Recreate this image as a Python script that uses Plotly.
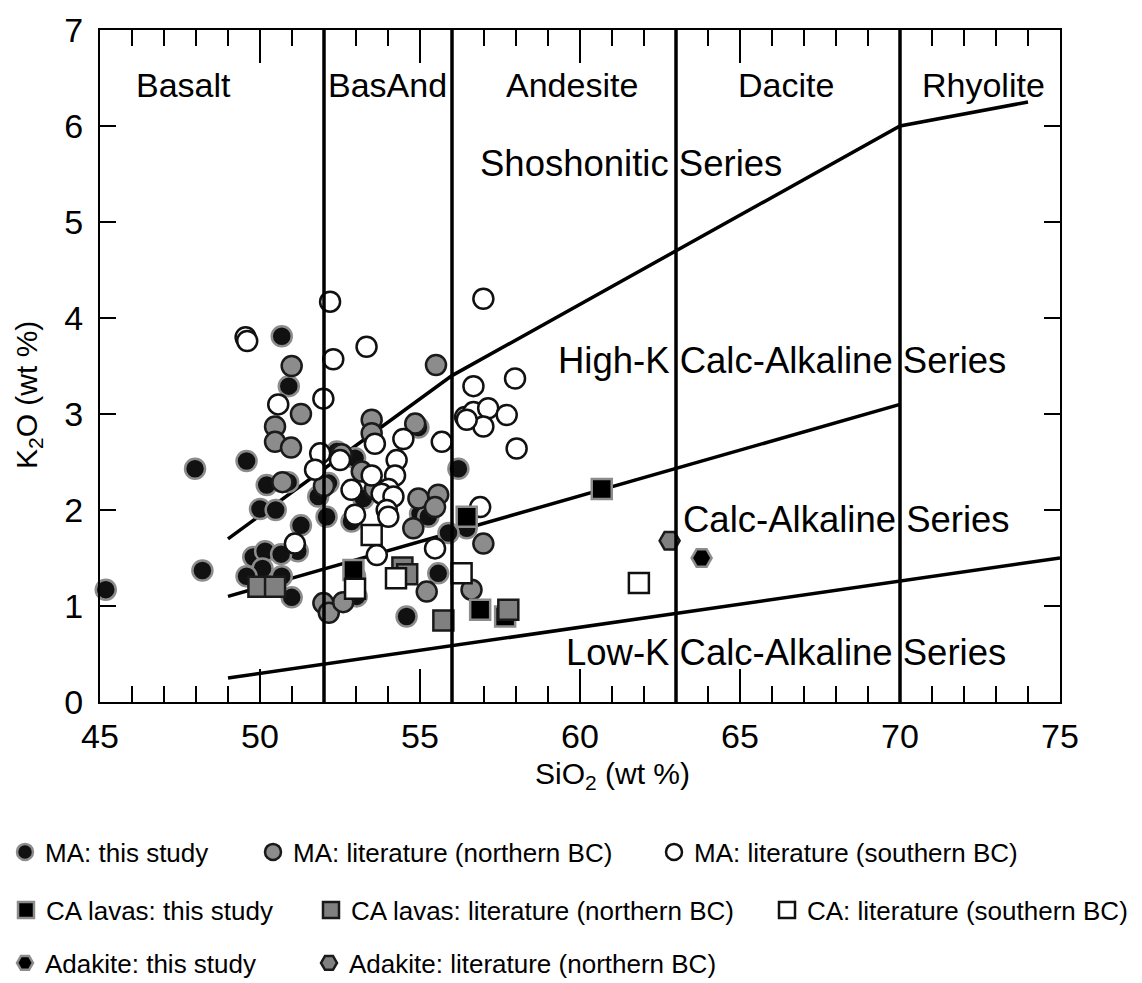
import plotly.graph_objects as go

# ---------------- data ----------------
ma_this_x = [45.18, 47.97, 48.2, 49.58, 50.68, 50.9, 50.21, 50.88, 50.0, 50.49, 51.28, 51.18, 49.79, 50.16,
             50.66, 50.08, 49.58, 50.68, 50.99, 52.4, 52.97, 52.14, 51.82, 53.23, 52.08, 52.86, 54.95, 55.0,
             55.26, 56.2, 56.46, 55.89, 52.97, 53.02, 55.57, 54.58]
ma_this_y = [1.17, 2.43, 1.37, 2.51, 3.81, 3.29, 2.26, 2.29, 2.01, 2.0, 1.84, 1.57, 1.51, 1.57,
             1.54, 1.39, 1.31, 1.31, 1.09, 2.61, 2.54, 2.28, 2.14, 2.12, 1.93, 1.88, 2.86, 1.96,
             1.93, 2.43, 1.81, 1.76, 1.31, 1.10, 1.34, 0.89]

ma_north_x = [50.99, 51.28, 50.47, 50.47, 50.97, 50.7, 55.5, 53.49, 53.49, 54.85, 52.55, 53.18, 53.59,
              54.95, 55.57, 55.47, 54.79, 52.0, 56.98, 55.21, 56.61, 51.98, 52.15, 52.6]
ma_north_y = [3.50, 3.00, 2.87, 2.71, 2.65, 2.29, 3.51, 2.94, 2.80, 2.90, 2.58, 2.40, 2.22,
              2.12, 2.16, 2.03, 1.81, 2.25, 1.65, 1.15, 1.17, 1.03, 0.93, 1.04]

ma_south_x = [49.55, 49.6, 50.57, 51.09, 52.19, 53.33, 52.29, 56.98, 51.98, 56.67, 57.97, 56.41, 56.67,
              57.13, 57.71, 56.98, 56.46, 58.02, 53.59, 54.48, 55.68, 51.88, 51.72, 52.5, 54.27, 53.49,
              54.22, 52.86, 54.01, 53.8, 54.17, 53.96, 54.01, 52.97, 53.65, 55.47, 56.88]
ma_south_y = [3.80, 3.76, 3.10, 1.65, 4.17, 3.70, 3.57, 4.20, 3.16, 3.29, 3.37, 2.97, 3.02,
              3.06, 2.99, 2.87, 2.94, 2.64, 2.69, 2.74, 2.71, 2.59, 2.42, 2.52, 2.52, 2.36,
              2.36, 2.21, 2.22, 2.17, 2.14, 2.00, 1.93, 1.95, 1.53, 1.60, 2.03]

ca_this_x = [52.92, 56.46, 56.88, 57.66, 60.68]
ca_this_y = [1.375, 1.93, 0.96, 0.89, 2.22]

ca_north_x = [49.95, 50.47, 54.45, 54.6, 55.73, 57.76]
ca_north_y = [1.20, 1.20, 1.40, 1.33, 0.85, 0.96]

ca_south_x = [53.49, 52.97, 54.25, 56.3, 61.84]
ca_south_y = [1.74, 1.18, 1.29, 1.34, 1.24]

adakite_this_x = [63.8]
adakite_this_y = [1.50]
adakite_north_x = [62.8]
adakite_north_y = [1.68]

# classification boundaries
sho_x = [49, 56, 70, 74]
sho_y = [1.7, 3.4, 6.0, 6.25]
hk_x = [49, 70]
hk_y = [1.1, 3.1]
lk_x = [49, 75]
lk_y = [0.25, 1.5]
vertical_x = [52, 56, 63, 70]

rock_names = ["Basalt", "BasAnd", "Andesite", "Dacite", "Rhyolite"]
rock_x = [47.6, 53.98, 59.75, 66.44, 72.6]
rock_y = [6.43, 6.43, 6.43, 6.43, 6.43]

series_names = ["Shoshonitic Series", "High-K Calc-Alkaline Series", "Calc-Alkaline Series",
                "Low-K Calc-Alkaline Series"]
series_x = [61.6, 66.3, 68.34, 66.45]
series_y = [5.61, 3.56, 1.90, 0.52]

FONT = "Arial, Liberation Sans, sans-serif"

# page body has an 8px margin; plot area target: left 100, top 30, right 1060, bottom 702
OFF = 8

fig = go.Figure()

# boundary lines
for bx, by in [(sho_x, sho_y), (hk_x, hk_y), (lk_x, lk_y)]:
    fig.add_trace(go.Scatter(x=bx, y=by, mode="lines", line=dict(color="black", width=3.5),
                             showlegend=False, hoverinfo="skip"))

for vx in vertical_x:
    fig.add_shape(type="line", x0=vx, x1=vx, y0=0, y1=7, xref="x", yref="y",
                  line=dict(color="black", width=3.5))

series = [
    ("MA: this study", ma_this_x, ma_this_y, "circle", "#111111", "#8c8c8c", 2.5, "legend"),
    ("MA: literature (northern BC)", ma_north_x, ma_north_y, "circle", "#8c8c8c", "#1a1a1a", 2.5, "legend2"),
    ("MA: literature (southern BC)", ma_south_x, ma_south_y, "circle", "white", "#111111", 2.5, "legend3"),
    ("CA lavas: this study", ca_this_x, ca_this_y, "square", "#000000", "#8c8c8c", 2.5, "legend4"),
    ("CA lavas: literature (northern BC)", ca_north_x, ca_north_y, "square", "#808080", "#1a1a1a", 2.5, "legend5"),
    ("CA: literature (southern BC)", ca_south_x, ca_south_y, "square", "white", "#111111", 2.5, "legend6"),
    ("Adakite: this study", adakite_this_x, adakite_this_y, "hexagon2", "#000000", "#8c8c8c", 2.5, "legend7"),
    ("Adakite: literature (northern BC)", adakite_north_x, adakite_north_y, "hexagon2", "#808080", "#1a1a1a", 2.5, "legend8"),
]

for name, sx, sy, sym, fill, edge, lw, lg in series:
    fig.add_trace(go.Scatter(
        x=sx, y=sy, mode="markers", name=name, legend=lg, cliponaxis=False,
        marker=dict(symbol=sym, size=20, color=fill, line=dict(color=edge, width=lw)),
    ))

annotations = []
for t, ax_, ay_ in zip(rock_names, rock_x, rock_y):
    annotations.append(dict(x=ax_, y=ay_, xref="x", yref="y", text=t, showarrow=False,
                            font=dict(family=FONT, size=34, color="black"),
                            xanchor="center", yanchor="middle"))
for t, ax_, ay_ in zip(series_names, series_x, series_y):
    annotations.append(dict(x=ax_, y=ay_, xref="x", yref="y", text=t, showarrow=False,
                            font=dict(family=FONT, size=36.5, color="black"),
                            xanchor="center", yanchor="middle"))
# axis titles
annotations.append(dict(x=(612 - 100) / 960, y=(702 - 775) / 672, xref="paper", yref="paper",
                        text="SiO<sub>2</sub> (wt %)", showarrow=False,
                        font=dict(family=FONT, size=30, color="black"),
                        xanchor="center", yanchor="middle"))
annotations.append(dict(x=(28 - 100) / 960, y=(702 - 395) / 672, xref="paper", yref="paper",
                        text="K<sub>2</sub>O (wt %)", showarrow=False, textangle=-90,
                        font=dict(family=FONT, size=30, color="black"),
                        xanchor="center", yanchor="middle"))

# legend placement (marker centre pixel, row centre pixel)
legend_slots = {
    "legend": (22, 852), "legend2": (270, 852), "legend3": (671, 852),
    "legend4": (23, 910), "legend5": (328, 910), "legend6": (784, 910),
    "legend7": (22, 963), "legend8": (326, 963),
}
legend_layout = {}
for key, (mx, my) in legend_slots.items():
    legend_layout[key] = dict(
        x=(mx + 3 - 120) / 960, y=(702 - my) / 672, xanchor="left", yanchor="middle",
        orientation="h", bgcolor="rgba(0,0,0,0)",
        font=dict(family=FONT, size=26, color="black"),
    )

fig.update_layout(
    width=1142, height=983,
    margin=dict(l=100 - OFF, r=1142 - 1060 + OFF, t=30 - OFF, b=983 - 702 + OFF, autoexpand=False),
    paper_bgcolor="white", plot_bgcolor="white",
    showlegend=True,
    annotations=annotations,
    font=dict(family=FONT, color="black"),
    **legend_layout,
)

fig.update_xaxes(
    range=[45, 75], tick0=45, dtick=5, ticks="inside", ticklen=33, tickwidth=2, tickcolor="black",
    showline=True, linewidth=2, linecolor="black", mirror="ticks",
    showgrid=False, zeroline=False, automargin=False, ticklabelstandoff=3,
    tickfont=dict(family=FONT, size=34, color="black"),
    minor=dict(dtick=1, tick0=45, ticks="inside", ticklen=16, tickwidth=2, tickcolor="black", showgrid=False),
)
fig.update_yaxes(
    range=[0, 7], tick0=0, dtick=1, ticks="inside", ticklen=16, tickwidth=2, tickcolor="black",
    showline=True, linewidth=2, linecolor="black", mirror="ticks",
    showgrid=False, zeroline=False, automargin=False, ticklabelstandoff=8,
    tickfont=dict(family=FONT, size=34, color="black"),
)

fig.write_html("out.html")
